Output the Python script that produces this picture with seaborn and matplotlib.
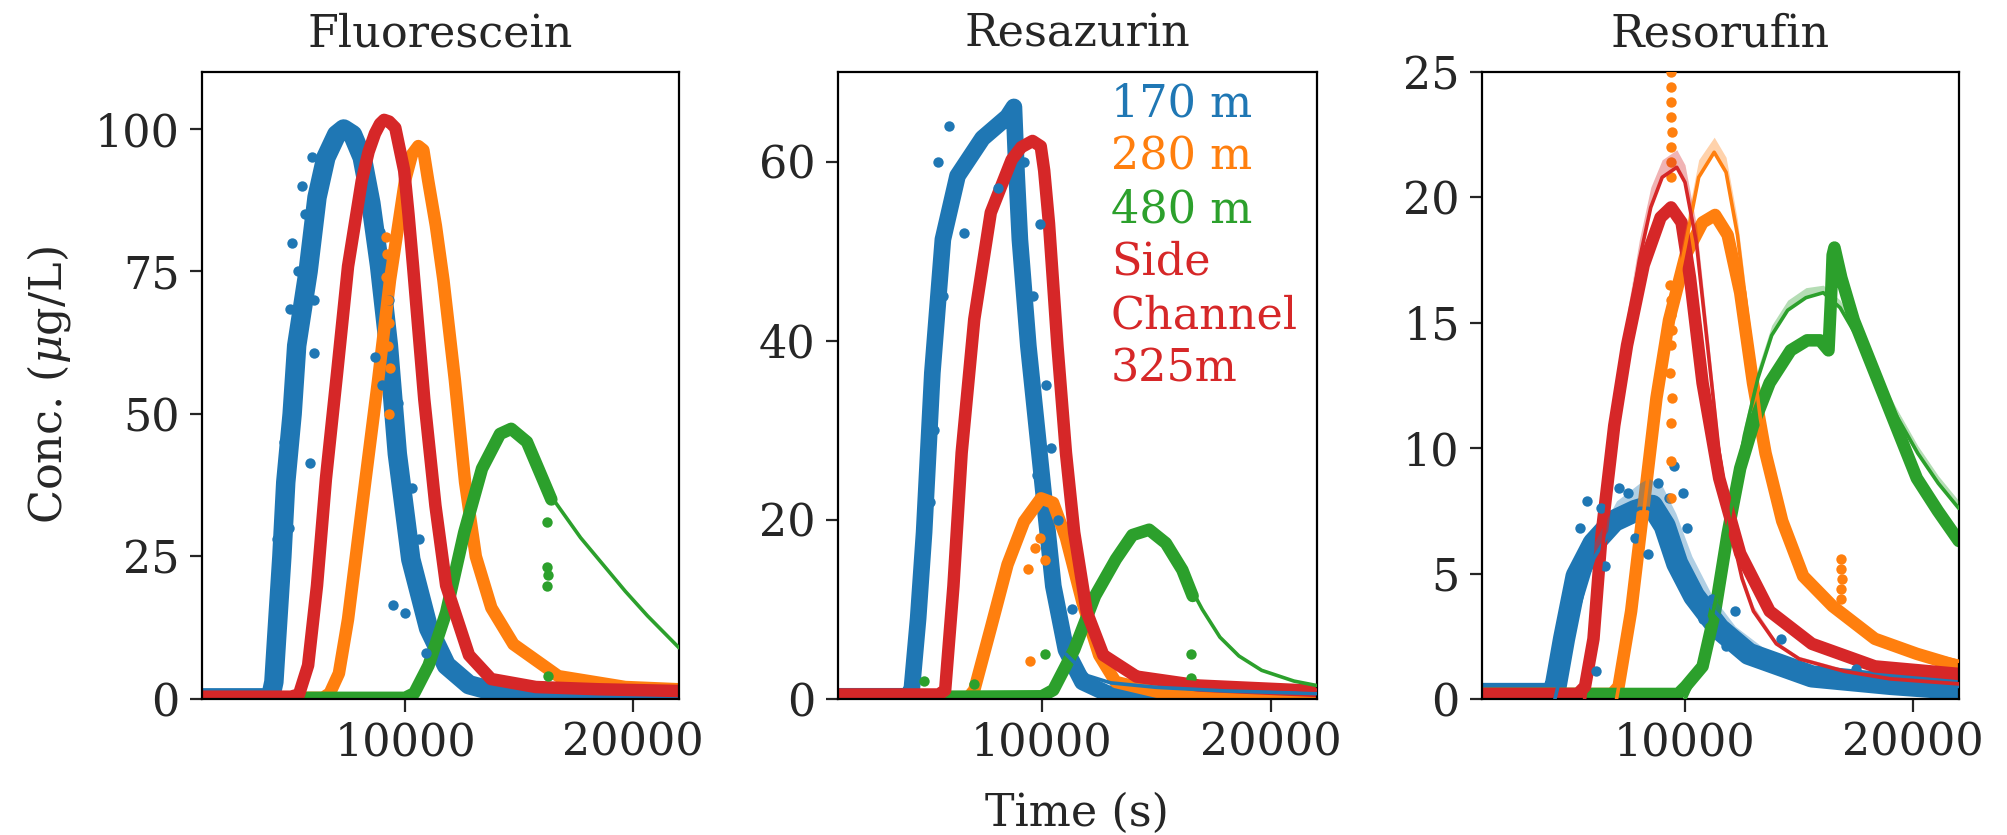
import matplotlib
matplotlib.use("Agg")
import matplotlib.pyplot as plt
import seaborn as sns

# ---------------------------------------------------------------- data
SITES = ["170 m", "280 m", "480 m", "Side\nChannel\n325m"]
COLORS = ["#1f77b4", "#ff7f0e", "#2ca02c", "#d62728"]
TRACERS = ["Fluorescein", "Resazurin", "Resorufin"]
Y_TICKS = [[0, 25, 50, 75, 100], [0, 20, 40, 60], [0, 5, 10, 15, 20, 25]]
Y_MAX = [110, 70, 25]
X_TICKS = [10000, 20000]

# Fluorescein observations (time s, concentration ug/L)
FL_170_T = [1100, 4100, 4250, 4360, 4600, 4770, 5050, 5250, 5750, 6140, 6530, 7000, 7310, 7700,
            8120, 8500, 8880, 9270, 9660, 10250, 11030, 11810, 12800, 14000, 16000, 19000, 22000]
FL_170_C = [0.2, 0.2, 3, 10, 25, 38, 50, 62, 75, 88, 95, 99, 100, 99,
            95, 87, 76, 62, 43, 24.5, 12.4, 5.9, 2.5, 1.2, 0.7, 0.5, 0.4]
FL_280_T = [1100, 6400, 6700, 7100, 7500, 8250, 8820, 9340, 10000, 10300, 10580, 10800, 11010,
            11350, 11680, 12180, 12630, 13100, 13780, 14750, 16720, 19650, 22000]
FL_280_C = [0.2, 0.2, 1.0, 4.5, 14, 38, 56, 73.5, 91, 95.5, 97.0, 96.3, 91,
            83, 73.5, 56, 38, 25, 16, 9.6, 4.0, 2.1, 1.7]
FL_480_T = [1100, 10000, 10400, 11030, 11800, 12590, 13370, 14160, 14650, 15340, 16030, 16410]
FL_480_C = [0.2, 0.2, 1.0, 5.9, 15.2, 29.2, 40.4, 46.5, 47.4, 45.1, 38.6, 35.0]
FL_SIDE_T = [1100, 5000, 5350, 5750, 6140, 6530, 7020, 7500, 8100, 8400, 8680, 8900, 9080, 9300,
             9570, 9960, 10150, 10350, 10840, 11330, 11800, 12800, 13770, 15730, 18500, 22000]
FL_SIDE_C = [0.4, 0.4, 0.8, 5.9, 19.9, 38.6, 57.2, 75.9, 90.9, 96.0, 99.2, 100.9, 101.6, 101.3,
             100.2, 92.7, 85.0, 75.9, 52.6, 33.9, 19.9, 7.7, 3.5, 2.1, 1.7, 1.4]
FL_480_FIT_T = [14650, 15340, 16030, 16410, 17690, 18670, 19650, 20620, 22000]
FL_480_FIT_C = [47.4, 45.1, 38.6, 35.5, 28.3, 23.6, 18.9, 14.6, 9.0]
FL_170_OUT_T = [4950, 5050, 5840, 6030, 9670, 9970, 9470, 10300, 10600, 4900, 5500, 8700, 11800,
                4700, 5300, 5600, 4500, 6000, 5900, 8900, 9300, 10000, 10900, 9000, 4400, 5150]
FL_170_OUT_C = [68.4, 80, 41.4, 60.7, 52, 33, 16.4, 37, 28, 30, 90, 60, 6,
                45, 75, 85, 20, 70, 95, 82, 70, 15, 8, 55, 28, 57]
FL_280_OUT_T = [9150, 9200, 9180, 9250, 9300, 9250, 9350, 9300]
FL_280_OUT_C = [81, 78, 74, 70, 66, 62, 58, 50]
FL_480_OUT_T = [16230, 16230, 16250, 16230, 16250]
FL_480_OUT_C = [31.1, 23.1, 21.7, 19.9, 4.0]

# Resazurin observations
RZ_170_T = [1100, 4100, 4320, 4600, 4860, 5220, 5680, 6320, 7410, 8500, 8780, 8900, 9040, 9410,
            9770, 10130, 10500, 11050, 11770, 12860, 15000, 22000]
RZ_170_C = [0.3, 0.3, 1.0, 9, 18.6, 36.4, 51.3, 58.4, 62.6, 65.0, 66.1, 58.5, 51.3, 39.4,
            30.5, 21.6, 12.6, 5.5, 1.9, 0.6, 0.4, 0.3]
RZ_280_T = [1100, 6800, 7050, 7770, 8500, 9220, 9960, 10490, 11050, 11770, 12500, 13220, 15040, 22000]
RZ_280_C = [0.2, 0.2, 1.0, 7.9, 15.0, 19.8, 22.4, 21.9, 18.0, 10.8, 4.9, 1.9, 0.8, 0.4]
RZ_480_T = [1100, 10000, 10500, 11410, 12320, 13230, 13950, 14680, 15410, 16130, 16580]
RZ_480_C = [0.2, 0.3, 1.0, 5.5, 11.5, 15.6, 18.3, 18.9, 17.4, 14.4, 11.5]
RZ_SIDE_T = [1100, 5500, 5780, 6140, 6500, 7050, 7770, 8680, 9100, 9590, 9950, 10100, 10310, 10680,
             11050, 11410, 11960, 12680, 14130, 16850, 22000]
RZ_SIDE_C = [0.5, 0.5, 1.0, 12.6, 27.5, 42.4, 54.3, 60.2, 61.6, 62.3, 61.7, 59.0, 53.1, 39.4,
             27.5, 18.6, 9.7, 4.9, 2.5, 1.5, 0.9]
RZ_170_FIT_T = [11050, 12000, 13000, 15000, 18000, 22000]
RZ_170_FIT_C = [5.0, 2.6, 1.8, 1.3, 0.9, 0.6]
RZ_480_FIT_T = [14680, 15410, 16130, 16580, 17000, 17770, 18600, 19590, 21000, 22000]
RZ_480_FIT_C = [18.9, 17.4, 14.4, 12.0, 10.0, 6.9, 4.8, 3.2, 2.0, 1.5]
RZ_SIDE_FIT_T = [11960, 12680, 13500, 14500, 16000, 18000, 20000, 22000]
RZ_SIDE_FIT_C = [9.9, 5.6, 3.6, 2.7, 2.0, 1.5, 1.2, 1.0]
RZ_170_OUT_T = [5960, 5480, 5700, 6000, 9900, 10200, 9800, 10700, 11300, 5300, 8100, 9200,
                5100, 6600, 9600, 10400]
RZ_170_OUT_C = [64, 60, 45, 55, 53, 35, 25, 20, 10, 30, 57, 60,
                22, 52, 45, 28]
RZ_280_OUT_T = [9400, 9500, 10150, 9900, 9700]
RZ_280_OUT_C = [14.5, 4.2, 15.5, 18.0, 16.8]
RZ_480_OUT_T = [4860, 7050, 10130, 16500, 16500]
RZ_480_OUT_C = [2.0, 1.7, 5.0, 5.0, 2.3]

# Resorufin observations
RF_170_T = [1100, 4100, 4330, 4700, 5250, 5990, 6890, 7820, 8560, 9110, 9660, 10400, 11490, 12790,
            15560, 19000, 22000]
RF_170_C = [0.2, 0.2, 0.5, 2.4, 4.9, 6.2, 7.1, 7.5, 7.7, 6.9, 5.4, 4.1, 2.8, 1.8,
            0.9, 0.6, 0.4]
RF_280_T = [1100, 6800, 7090, 7640, 8190, 8750, 9300, 10030, 10770, 11320, 11870, 12420, 12980,
            13530, 14260, 15180, 16470, 18320, 20160, 22000]
RF_280_C = [0.2, 0.2, 0.5, 3.5, 7.7, 12.0, 15.1, 17.7, 19.0, 19.3, 18.5, 16.2, 12.6,
            9.8, 7.1, 4.9, 3.7, 2.4, 1.8, 1.3]
RF_480_T = [1100, 9700, 10030, 10770, 11320, 11870, 12420, 12980, 13710, 14630, 15350, 15920,
            16290, 16400, 16470, 16550, 16850, 17400, 18320, 19240, 20160, 21080, 22000]
RF_480_C = [0.2, 0.2, 0.5, 1.3, 3.5, 6.6, 9.2, 10.9, 12.6, 13.9, 14.3, 14.3,
            13.9, 16.0, 17.7, 18.0, 16.8, 15.1, 13.0, 10.9, 8.8, 7.5, 6.3]
RF_SIDE_T = [1100, 5300, 5620, 5990, 6350, 6900, 7460, 8190, 8930, 9390, 9850, 10220, 10770,
             11500, 12420, 13710, 15560, 18320, 22000]
RF_SIDE_C = [0.2, 0.2, 0.5, 2.4, 6.6, 10.9, 14.1, 17.3, 19.2, 19.6, 19.0, 16.8, 12.6,
             8.8, 5.8, 3.5, 2.2, 1.3, 1.0]

# Resorufin model fits with upper uncertainty bound
RF_170_FIT_T = [4300, 5000, 6000, 7000, 8000, 8400, 9000, 9600, 10300, 11200, 12200, 13500, 15500, 18500, 22000]
RF_170_FIT_C = [0.0, 2.6, 5.6, 7.1, 7.6, 7.6, 7.2, 6.2, 4.9, 3.6, 2.6, 1.8, 1.2, 0.8, 0.5]
RF_170_FIT_HI = [0.0, 2.9, 6.2, 7.9, 8.6, 8.8, 8.5, 7.4, 5.7, 4.1, 2.9, 2.0, 1.3, 0.9, 0.6]
RF_280_FIT_T = [7000, 7600, 8200, 8800, 9400, 10000, 10600, 11280, 11800, 12300, 12800, 13300, 13800,
                14500, 15500, 16500, 18000, 20000, 22000]
RF_280_FIT_C = [0.0, 3.0, 7.5, 12.0, 15.3, 18.0, 20.8, 21.8, 21.0, 18.5, 14.8, 11.2, 8.6,
                6.4, 4.6, 3.6, 2.6, 1.9, 1.5]
RF_280_FIT_HI = [0.0, 3.2, 7.9, 12.6, 16.0, 18.7, 21.5, 22.4, 21.6, 19.1, 15.3, 11.6, 8.9,
                 6.6, 4.8, 3.7, 2.7, 2.0, 1.6]
RF_480_FIT_T = [10000, 10800, 11400, 12000, 12600, 13200, 13800, 14500, 15300, 16060, 16800, 17500,
                18300, 19200, 20200, 21100, 22000]
RF_480_FIT_C = [0.0, 1.6, 4.2, 7.5, 10.5, 12.8, 14.5, 15.5, 16.0, 16.2, 15.6, 14.5,
                13.0, 11.4, 9.8, 8.6, 7.6]
RF_480_FIT_HI = [0.0, 1.7, 4.4, 7.8, 10.9, 13.2, 14.9, 15.9, 16.4, 16.5, 15.9, 14.8,
                 13.3, 11.7, 10.1, 8.9, 7.9]
RF_SIDE_FIT_T = [5600, 6000, 6500, 7000, 7500, 8000, 8500, 9000, 9640, 10000, 10500, 11000, 11500,
                 12000, 12500, 13000, 14000, 15000, 17000, 19000, 22000]
RF_SIDE_FIT_C = [0.0, 2.6, 7.0, 11.0, 14.8, 17.5, 19.6, 20.8, 21.2, 20.6, 18.2, 14.0, 9.8,
                 6.8, 4.8, 3.5, 2.2, 1.6, 1.1, 0.8, 0.6]
RF_SIDE_FIT_HI = [0.0, 2.9, 7.6, 11.8, 15.6, 18.3, 20.4, 21.5, 21.9, 21.3, 18.9, 14.6, 10.2,
                  7.1, 5.0, 3.7, 2.3, 1.7, 1.2, 0.9, 0.7]
RF_170_OUT_T = [4900, 5700, 6100, 9500, 9300, 9900, 12200, 17500, 5400, 7500, 8400, 10800, 11200, 6500,
                6300, 7100, 8800, 10100, 11800, 13400, 14200, 7800]
RF_170_OUT_C = [3.5, 7.9, 1.1, 9.3, 8.0, 8.2, 3.5, 1.2, 6.8, 8.2, 5.8, 3.2, 4.0, 5.3,
                7.6, 8.4, 8.6, 6.8, 2.1, 1.4, 2.4, 6.4]
RF_280_OUT_T = [9390, 9380, 9400, 9390, 9410, 9380, 9400, 9390, 9350, 9400, 9370, 9420, 9390, 9360,
                9410, 9380, 9400, 9390, 16850, 16830, 16870, 16850, 16840]
RF_280_OUT_C = [25.0, 24.4, 23.8, 23.2, 22.6, 22.0, 21.4, 20.8, 16.5, 15.9, 15.3, 14.7, 14.1, 13.0,
                12.0, 11.0, 9.5, 8.0, 5.6, 5.2, 4.8, 4.4, 4.0]

# ---------------------------------------------------------------- style
sns.set_theme(style="ticks")
plt.rcParams["font.family"] = ["DejaVu Serif"]
plt.rcParams["mathtext.fontset"] = "dejavuserif"
FS = 16

fig = plt.figure(figsize=(10.04, 4.175), dpi=200)
axes = [fig.add_axes([0.1006, 0.1629, 0.2375, 0.7509]),
        fig.add_axes([0.4173, 0.1629, 0.2385, 0.7509]),
        fig.add_axes([0.7380, 0.1629, 0.2375, 0.7509])]

DATA = [
    [(FL_170_T, FL_170_C), (FL_280_T, FL_280_C), (FL_480_T, FL_480_C), (FL_SIDE_T, FL_SIDE_C)],
    [(RZ_170_T, RZ_170_C), (RZ_280_T, RZ_280_C), (RZ_480_T, RZ_480_C), (RZ_SIDE_T, RZ_SIDE_C)],
    [(RF_170_T, RF_170_C), (RF_280_T, RF_280_C), (RF_480_T, RF_480_C), (RF_SIDE_T, RF_SIDE_C)],
]
BAND_WIDTH = 4.5
BLUE_WIDTH = [7, 6, 8]
OUTLIERS = [
    [(0, FL_170_OUT_T, FL_170_OUT_C), (1, FL_280_OUT_T, FL_280_OUT_C), (2, FL_480_OUT_T, FL_480_OUT_C)],
    [(0, RZ_170_OUT_T, RZ_170_OUT_C), (1, RZ_280_OUT_T, RZ_280_OUT_C), (2, RZ_480_OUT_T, RZ_480_OUT_C)],
    [(0, RF_170_OUT_T, RF_170_OUT_C), (1, RF_280_OUT_T, RF_280_OUT_C)],
]
FITS = [
    [(2, FL_480_FIT_T, FL_480_FIT_C, None)],
    [(0, RZ_170_FIT_T, RZ_170_FIT_C, None), (2, RZ_480_FIT_T, RZ_480_FIT_C, None),
     (3, RZ_SIDE_FIT_T, RZ_SIDE_FIT_C, None)],
    [(0, RF_170_FIT_T, RF_170_FIT_C, RF_170_FIT_HI), (1, RF_280_FIT_T, RF_280_FIT_C, RF_280_FIT_HI),
     (2, RF_480_FIT_T, RF_480_FIT_C, RF_480_FIT_HI), (3, RF_SIDE_FIT_T, RF_SIDE_FIT_C, RF_SIDE_FIT_HI)],
]

for p, ax in enumerate(axes):
    # dense observation bands
    for k in range(4):
        t, c = DATA[p][k]
        lw = BLUE_WIDTH[p] if k == 0 else BAND_WIDTH
        sns.lineplot(x=t, y=c, ax=ax, color=COLORS[k], linewidth=lw,
                     solid_capstyle="round", solid_joinstyle="round", zorder=2 + k * 0.1)
    # scattered individual samples
    for k, t, c in OUTLIERS[p]:
        sns.scatterplot(x=t, y=c, ax=ax, color=COLORS[k], s=14, linewidth=0, zorder=3)
    # model fits
    for k, t, c, hi in FITS[p]:
        if hi is not None:
            ax.fill_between(t, c, hi, color=COLORS[k], alpha=0.35, linewidth=0, zorder=4)
        sns.lineplot(x=t, y=c, ax=ax, color=COLORS[k], linewidth=1.3, zorder=4.5)

    ax.set_xlim(1100, 22000)
    ax.set_ylim(0, Y_MAX[p])
    ax.set_xticks(X_TICKS)
    ax.set_yticks(Y_TICKS[p])
    ax.set_title(TRACERS[p], fontsize=FS, pad=9)
    ax.tick_params(labelsize=FS, length=4.5, width=0.8, direction="out")
    for s in ax.spines.values():
        s.set_visible(True)
        s.set_linewidth(0.8)
        s.set_color("black")
    ax.set_xlabel("")
    ax.set_ylabel("")

axes[0].set_ylabel("Conc. ($\\mu$g/L)", fontsize=FS, labelpad=8)
axes[1].set_xlabel("Time (s)", fontsize=FS, labelpad=10)

# site legend written in the site colours
LEGEND_Y = [0.949, 0.864, 0.780, 0.697, 0.611, 0.526]
legend_lines = []
legend_cols = []
for k, name in enumerate(SITES):
    for line in name.split("\n"):
        legend_lines.append(line)
        legend_cols.append(COLORS[k])
for y, txt, col in zip(LEGEND_Y, legend_lines, legend_cols):
    axes[1].text(0.57, y, txt, color=col, fontsize=FS, transform=axes[1].transAxes,
                 ha="left", va="center", zorder=6)

fig.savefig("out.png", dpi=200)
